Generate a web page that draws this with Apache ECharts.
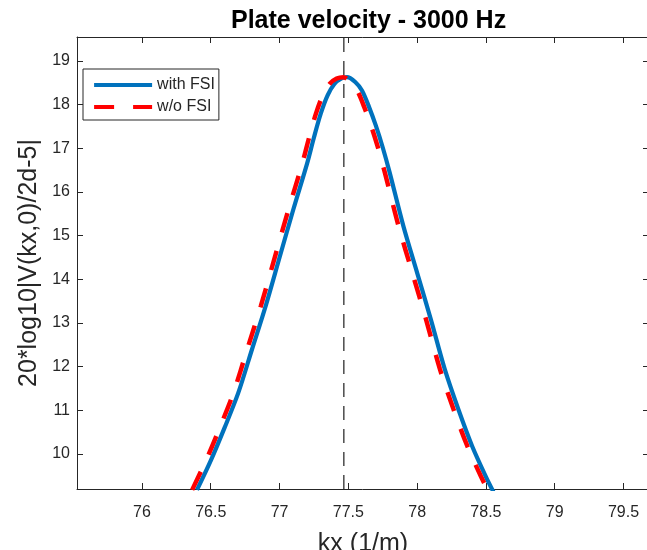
<!DOCTYPE html>
<html>
<head>
<meta charset="utf-8">
<script src="https://cdn.jsdelivr.net/npm/echarts@6/dist/echarts.min.js"></script>
<style>
html,body{margin:0;padding:0;background:#fff;}
#chart{width:647px;height:550px;}
</style>
</head>
<body>
<div id="chart"></div>
<script>
// kx (1/m) and level (dB)
const kxWithFSI = [76.40, 76.50, 76.60, 76.70, 76.80, 76.90, 77.00, 77.10, 77.20, 77.25, 77.30, 77.35, 77.40, 77.45, 77.49, 77.55, 77.60, 77.65, 77.70, 77.75, 77.80, 77.90, 78.00, 78.10, 78.20, 78.30, 78.40, 78.50, 78.56];
const levelWithFSI = [9.18, 9.85, 10.60, 11.40, 12.40, 13.40, 14.50, 15.60, 16.65, 17.25, 17.80, 18.22, 18.48, 18.60, 18.63, 18.52, 18.32, 17.95, 17.52, 17.02, 16.45, 15.22, 14.15, 13.08, 11.95, 11.02, 10.18, 9.48, 9.10];
const kxWithoutFSI = [76.365, 76.465, 76.565, 76.665, 76.765, 76.865, 76.965, 77.065, 77.165, 77.215, 77.265, 77.315, 77.365, 77.415, 77.465, 77.515, 77.565, 77.615, 77.665, 77.715, 77.765, 77.865, 77.965, 78.065, 78.165, 78.265, 78.365, 78.465, 78.525];
const levelWithoutFSI = [9.18, 9.85, 10.60, 11.40, 12.40, 13.40, 14.50, 15.60, 16.65, 17.25, 17.80, 18.22, 18.48, 18.60, 18.63, 18.52, 18.32, 17.95, 17.52, 17.02, 16.45, 15.22, 14.15, 13.08, 11.95, 11.02, 10.18, 9.48, 9.10];
const peakKx = 77.467;
const xTicks = [76, 76.5, 77, 77.5, 78, 78.5, 79, 79.5];
const yTicks = [10, 11, 12, 13, 14, 15, 16, 17, 18, 19];
const xRange = [75.528, 79.685];
const yRange = [9.20, 19.55];

const zip = (xs, ys) => xs.map((x, i) => [x, ys[i]]);
const FONT = 'Liberation Sans, Arial, Helvetica, sans-serif';
const AX = '#262626';

const baseX = {
  type: 'value', min: xRange[0], max: xRange[1],
  axisLine: {show: true, onZero: false, lineStyle: {color: AX, width: 1}},
  axisTick: {show: true, inside: true, length: 6, customValues: xTicks, lineStyle: {color: AX}},
  splitLine: {show: false}
};
const baseY = {
  type: 'value', min: yRange[0], max: yRange[1],
  axisLine: {show: true, onZero: false, lineStyle: {color: AX, width: 1}},
  axisTick: {show: true, inside: true, length: 6, customValues: yTicks, lineStyle: {color: AX}},
  splitLine: {show: false}
};

const chart = echarts.init(document.getElementById('chart'), null, {renderer: 'canvas'});
chart.setOption({
  animation: false,
  backgroundColor: '#fff',
  title: {
    text: 'Plate velocity - 3000 Hz',
    left: 226, top: 4,
    textStyle: {fontFamily: FONT, fontSize: 25, fontWeight: 'bold', color: '#000'}
  },
  legend: {
    data: ['with FSI', 'w/o FSI'],
    orient: 'vertical',
    left: 83, top: 69,
    padding: [8, 4, 5, 9],
    itemGap: 6,
    itemWidth: 58, itemHeight: 14,
    itemStyle: {opacity: 0},
    lineStyle: {width: 4.2},
    backgroundColor: '#fff',
    borderColor: AX, borderWidth: 1, borderRadius: 0,
    textStyle: {fontFamily: FONT, fontSize: 16, color: AX, lineHeight: 16}
  },
  grid: {left: 77, right: -2, top: 37, bottom: 61, containLabel: false, outerBoundsMode: 'none'},
  xAxis: [
    Object.assign({}, baseX, {
      position: 'bottom',
      name: 'kx (1/m)', nameLocation: 'middle', nameGap: 43,
      nameTextStyle: {fontFamily: FONT, fontSize: 25, color: AX},
      axisLabel: {show: true, customValues: xTicks, margin: 16, fontFamily: FONT, fontSize: 16, color: AX}
    }),
    Object.assign({}, baseX, {position: 'top', axisLabel: {show: false}})
  ],
  yAxis: [
    Object.assign({}, baseY, {
      position: 'left',
      name: '20*log10|V(kx,0)/2d-5|', nameLocation: 'middle', nameGap: 27,
      nameTextStyle: {fontFamily: FONT, fontSize: 25, color: AX},
      axisLabel: {show: true, customValues: yTicks, margin: 7, fontFamily: FONT, fontSize: 16, color: AX}
    }),
    Object.assign({}, baseY, {position: 'right', axisLabel: {show: false}})
  ],
  series: [
    {
      name: 'peak', type: 'line', silent: true, symbol: 'none',
      data: [[peakKx, yRange[0]], [peakKx, yRange[1]]],
      lineStyle: {color: '#555', width: 1.6, type: [14, 9]},
      z: 1
    },
    {
      name: 'with FSI', type: 'line', symbol: 'none', smooth: 0.3,
      data: zip(kxWithFSI, levelWithFSI),
      lineStyle: {color: '#0072BD', width: 4.2},
      itemStyle: {color: '#0072BD'},
      z: 2
    },
    {
      name: 'w/o FSI', type: 'line', symbol: 'none', smooth: 0.3,
      data: zip(kxWithoutFSI, levelWithoutFSI),
      lineStyle: {color: '#FF0000', width: 4.5, type: [20, 19]},
      itemStyle: {color: '#FF0000'},
      z: 3
    }
  ]
});
</script>
</body>
</html>
